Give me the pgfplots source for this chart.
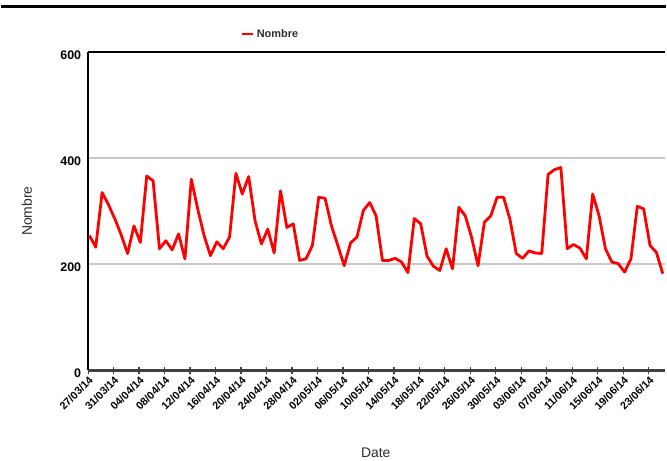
\documentclass[border=0pt]{standalone}
\usepackage{pgfplots}
\pgfplotsset{compat=1.18}
\usepackage{fontspec}
\setmainfont{Liberation Sans}
\definecolor{linered}{RGB}{255,0,0}
\definecolor{gridgrey}{RGB}{200,200,200}
\definecolor{axisgrey}{RGB}{64,64,64}
\definecolor{labelgrey}{RGB}{45,45,45}

\begin{document}
\begin{tikzpicture}
\begin{axis}[
  scale only axis, width=579pt, height=320pt,
  xmin=-0.2, xmax=90.27, ymin=0, ymax=600,
  clip=false,
  axis x line*=bottom, axis y line*=left,
  x axis line style={axisgrey, line width=2.5pt},
  y axis line style={black, line width=2.5pt},
  ytick={0,200,400,600},
  ymajorgrids, grid style={gridgrey, line width=1.5pt},
  ytick style={draw=none},
  xtick={-0.2,3.8,...,87.8},
  xticklabels={27/03/14,31/03/14,04/04/14,08/04/14,12/04/14,16/04/14,20/04/14,24/04/14,28/04/14,02/05/14,06/05/14,10/05/14,14/05/14,18/05/14,22/05/14,26/05/14,30/05/14,03/06/14,07/06/14,11/06/14,15/06/14,19/06/14,23/06/14},
  xtick style={axisgrey, line width=1.2pt},
  major tick length=7pt, tick align=center,
  x tick label style={rotate=45, anchor=north east, font=\bfseries\fontsize{10.8}{12}\selectfont, inner sep=1pt},
  y tick label style={font=\bfseries\fontsize{12.5}{14}\selectfont, yshift=-3pt},
  /pgf/number format/assume math mode=true,
  xlabel={Date},
  xlabel style={at={(axis description cs:0.499,-0.258)}, anchor=center, font=\fontsize{14}{16}\selectfont, text=labelgrey},
  ylabel={Nombre},
  ylabel style={at={(axis description cs:-0.106,0.5)}, anchor=center, font=\fontsize{14}{16}\selectfont, text=labelgrey},
  legend style={at={(axis description cs:0.265,1.056)}, anchor=west, draw=none, fill=none,
    font=\bfseries\fontsize{11}{13}\selectfont, text=labelgrey, inner sep=0pt},
  legend image code/.code={\draw[#1] (0pt,0pt) -- (11pt,0pt);},
]
\addplot[linered, line width=2.8pt, line join=round] coordinates {
(0,254)(1,232)(2,335)(3,312)(4,285)(5,255)(6,220)(7,272)(8,241)(9,366)
(10,357)(11,229)(12,244)(13,227)(14,257)(15,210)(16,360)(17,304)(18,254)(19,216)
(20,242)(21,229)(22,251)(23,371)(24,332)(25,365)(26,282)(27,238)(28,266)(29,221)
(30,338)(31,269)(32,276)(33,207)(34,210)(35,235)(36,326)(37,324)(38,272)(39,235)
(40,197)(41,240)(42,251)(43,301)(44,316)(45,291)(46,207)(47,207)(48,211)(49,204)
(50,184)(51,286)(52,276)(53,215)(54,196)(55,188)(56,229)(57,191)(58,307)(59,291)
(60,250)(61,197)(62,279)(63,291)(64,326)(65,326)(66,285)(67,220)(68,211)(69,225)
(70,221)(71,220)(72,369)(73,378)(74,382)(75,229)(76,237)(77,230)(78,210)(79,332)
(80,291)(81,229)(82,204)(83,201)(84,185)(85,210)(86,309)(87,304)(88,235)(89,222)
(90,182)};
\addlegendentry{Nombre}
\draw[black, line width=2.5pt] (rel axis cs:0,1) -- (rel axis cs:1,1);
\coordinate (O) at (rel axis cs:0,0);
\end{axis}
\pgfresetboundingbox
\draw[black, line width=3pt] ([shift={(-87pt,365pt)}]O) -- ([shift={(580pt,365pt)}]O);
\path ([shift={(-87pt,-91pt)}]O) rectangle ([shift={(580pt,372pt)}]O);
\end{tikzpicture}
\end{document}
